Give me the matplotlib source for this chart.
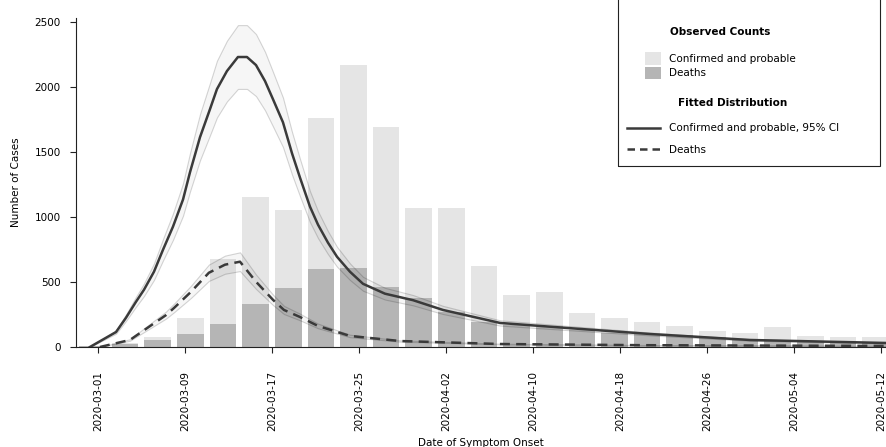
import matplotlib
matplotlib.use("Agg")
import matplotlib.pyplot as plt
from matplotlib.patches import Patch, Rectangle
from matplotlib.lines import Line2D
import numpy as np

# ---------------- data ----------------
bin_centers = [-0.5, 2.5, 5.5, 8.5, 11.5, 14.5, 17.5, 20.5, 23.5, 26.5, 29.5, 32.5,
               35.5, 38.5, 41.5, 44.5, 47.5, 50.5, 53.5, 56.5, 59.5, 62.5, 65.5, 68.5, 71.5]
counts_all = [10, 30, 80, 220, 680, 1150, 1050, 1760, 2170, 1690, 1070, 1070,
              620, 400, 420, 260, 220, 190, 160, 120, 110, 150, 85, 80, 75]
counts_sub = [10, 25, 50, 100, 180, 330, 450, 600, 610, 460, 380, 270,
              190, 170, 160, 130, 110, 100, 90, 80, 60, 55, 45, 40, 35]

fit_all_x = [-0.74, 1.66, 2.57, 3.49, 4.23, 5.15, 5.98, 6.9, 7.82, 8.46, 9.38, 10.3,
             10.94, 11.86, 12.87, 13.7, 14.53, 15.36, 16.09, 17.01, 17.84, 18.57, 19.49,
             20.23, 21.15, 21.98, 23.17, 24.37, 26.39, 28.97, 31.72, 36.97, 43.03, 50.76,
             59.95, 72.46]
fit_all_y = [0, 115, 224, 347, 440, 579, 748, 926, 1134, 1343, 1613, 1829,
             1983, 2122, 2230, 2230, 2168, 2045, 1906, 1728, 1490, 1304, 1080,
             941, 802, 694, 579, 486, 410, 360, 285, 185, 147, 100,
             54, 31]

fit_sub_x = [0.18, 2.94, 4.6, 6.25, 6.99, 8.55, 10.2, 11.68, 13.06, 14.53, 16.09, 17.1,
             18.57, 20.23, 23.17, 27.77, 36.97, 50.0, 72.46]
fit_sub_y = [0, 54, 150, 245, 300, 424, 571, 633, 656, 502, 363, 285,
             231, 162, 85, 46, 23, 14, 8]
band_rel = 0.11  # half-width of the uncertainty band, relative to the fit

tick_pos = [0, 8, 16, 24, 32, 40, 48, 56, 64, 72]
tick_labels = ["2020-03-01", "2020-03-09", "2020-03-17", "2020-03-25", "2020-04-02",
               "2020-04-10", "2020-04-18", "2020-04-26", "2020-05-04", "2020-05-12"]
ytick_vals = [0, 500, 1000, 1500, 2000, 2500]

label_all = "Confirmed and probable"
label_sub = "Deaths"
label_fit_all = "Confirmed and probable, 95% CI"
label_fit_sub = "Deaths"
legend_title1 = "Observed Counts"
legend_title2 = "Fitted Distribution"
xlabel = "Date of Symptom Onset"
ylabel = "Number of Cases"

# ---------------- figure ----------------
W, H = 886, 447
fig = plt.figure(figsize=(W / 100, H / 100), dpi=100)
ax = fig.add_axes([76 / W, 100 / H, 810 / W, 329 / H])

FS = 7.5
c_light = "#e5e5e5"
c_dark = "#b5b5b5"
c_line = "#3a3a3a"

ax.bar(bin_centers, counts_all, width=2.45, color=c_light, zorder=1)
ax.bar(bin_centers, counts_sub, width=2.45, color=c_dark, zorder=1.5)

for xs, ys in ((fit_all_x, fit_all_y), (fit_sub_x, fit_sub_y)):
    ys = np.asarray(ys, dtype=float)
    ax.fill_between(xs, ys * (1 - band_rel), ys * (1 + band_rel),
                    facecolor=(0, 0, 0, 0.035), edgecolor=(0, 0, 0, 0.16),
                    linewidth=0.8, zorder=2)

ax.plot(fit_all_x, fit_all_y, color=c_line, lw=1.8, zorder=3)
ax.plot(fit_sub_x, fit_sub_y, color=c_line, lw=1.8, ls=(0, (4, 2.5)), zorder=3)

ax.set_xlim(-2.02, 72.46)
ax.set_ylim(0, 2530)
ax.set_xticks(tick_pos)
ax.set_xticklabels(tick_labels, rotation=90, fontsize=FS)
ax.set_yticks(ytick_vals)
ax.set_yticklabels([str(v) for v in ytick_vals], fontsize=FS)
ax.tick_params(axis="both", length=4, width=0.8, color="#222222")
ax.tick_params(axis="x", pad=13)
ax.tick_params(axis="y", pad=7)

for s in ("top", "right"):
    ax.spines[s].set_visible(False)
for s in ("left", "bottom"):
    ax.spines[s].set_color("#222222")
    ax.spines[s].set_linewidth(0.8)

ax.set_xlabel(xlabel, fontsize=FS, labelpad=5)
ax.set_ylabel(ylabel, fontsize=FS, labelpad=10)

# ---------------- legends ----------------
h1 = [Patch(facecolor=c_light, edgecolor="none"), Patch(facecolor=c_dark, edgecolor="none")]
leg1 = ax.legend(h1, [label_all, label_sub], title=legend_title1, loc="upper left",
                 bbox_to_anchor=(645 / W, 1 - 27 / H), bbox_transform=fig.transFigure,
                 frameon=False, borderpad=0, borderaxespad=0, handlelength=1.5,
                 handleheight=1.45, labelspacing=0.2, handletextpad=0.8,
                 fontsize=FS, title_fontsize=FS)
leg1.get_title().set_fontweight("bold")
leg1._legend_box.sep = 11
ax.add_artist(leg1)

h2 = [Line2D([], [], color=c_line, lw=1.8),
      Line2D([], [], color=c_line, lw=1.8, ls=(0, (3, 2)))]
leg2 = ax.legend(h2, [label_fit_all, label_fit_sub], title=legend_title2, loc="upper left",
                 bbox_to_anchor=(627 / W, 1 - 98 / H), bbox_transform=fig.transFigure,
                 frameon=False, borderpad=0, borderaxespad=0, handlelength=3.2,
                 labelspacing=1.1, handletextpad=0.8, fontsize=FS, title_fontsize=FS)
leg2.get_title().set_fontweight("bold")
leg2._legend_box.sep = 11

fig.patches.append(Rectangle((618 / W, (H - 166) / H), (880 - 618) / W, 170 / H,
                             transform=fig.transFigure, fill=False,
                             edgecolor="#222222", linewidth=0.8))

fig.savefig("out.png", dpi=100)
